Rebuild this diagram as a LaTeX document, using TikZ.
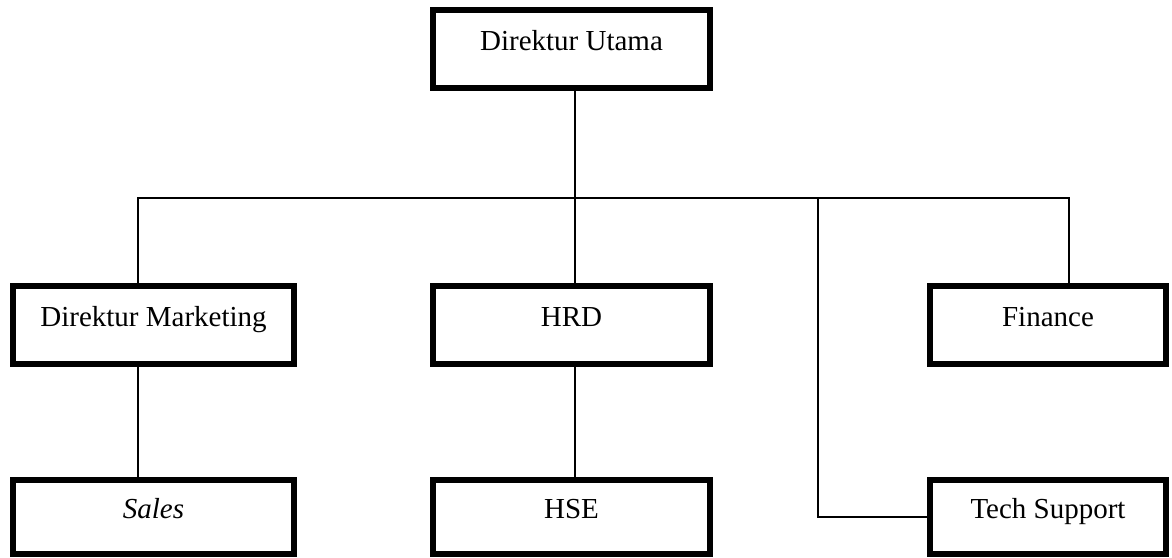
\documentclass[tikz,border=0pt]{standalone}
\usepackage{fontspec}
\setmainfont{Liberation Serif}
\usepackage{tikz}

\begin{document}
\begin{tikzpicture}[x=1pt,y=1pt,
      box/.style={draw, line width=6pt, inner xsep=0pt, inner ysep=0pt,
        text height=40pt, text depth=38pt,
        font=\fontsize{29}{35}\selectfont},
      low/.style={text height=38pt, text depth=36pt},
      link/.style={line width=1.8pt}]
      \useasboundingbox (0,0) rectangle (1172,-557);
      \node[box, minimum width=277] (utama) at (571.5,-49) {Direktur Utama};
      \node[box, minimum width=281] (mkt) at (153.5,-325) {Direktur Marketing};
      \node[box, minimum width=277] (hrd) at (571.5,-325) {HRD};
      \node[box, minimum width=236] (fin) at (1048,-325) {Finance};
      \node[box, low, minimum width=281] (sales) at (153.5,-517) {\itshape Sales};
      \node[box, low, minimum width=277] (hse) at (571.5,-517) {HSE};
      \node[box, low, minimum width=236] (tech) at (1048,-517) {Tech Support};
      \coordinate (busl) at (138,-198);
      \coordinate (busm) at (575,-198);
      \coordinate (busr) at (1069,-198);
      \coordinate (bust) at (818,-198);
      \draw[link] (busm |- utama.south) -- (busm);
      \draw[link] (busl |- mkt.north) -- (busl) -- (busr) -- (busr |- fin.north);
      \draw[link] (busm) -- (busm |- hrd.north);
      \draw[link] (bust) -- (bust |- tech.west) -- (tech.west);
      \draw[link] (busl |- mkt.south) -- (busl |- sales.north);
      \draw[link] (busm |- hrd.south) -- (busm |- hse.north);
    \end{tikzpicture}
\end{document}
